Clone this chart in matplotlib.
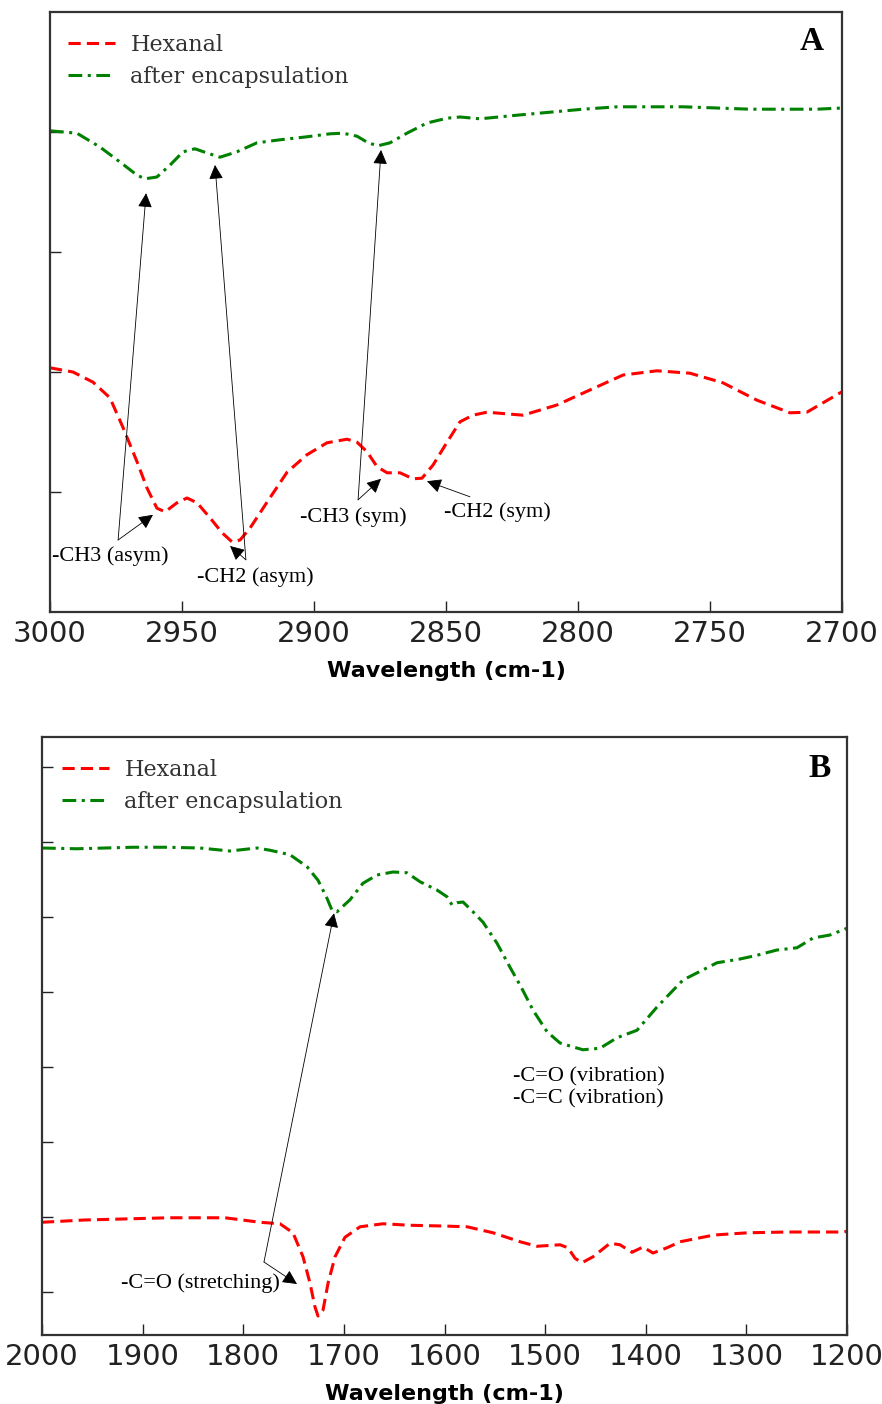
import numpy as np
import matplotlib
matplotlib.use('Agg')
import matplotlib.pyplot as plt

# パネルA (3000-2700 cm-1)
a_wn_hex = [3000.0, 2991.3, 2983.7, 2977.3, 2972.3, 2967.0, 2963.3, 2959.5, 2956.4, 2951.9,
            2948.1, 2944.3, 2939.4, 2934.8, 2931.1, 2928.0, 2924.2, 2917.8, 2910.2, 2902.7,
            2895.1, 2887.5, 2883.7, 2879.9, 2876.1, 2872.3, 2867.4, 2862.5, 2859.1, 2854.9,
            2849.6, 2844.7, 2839.8, 2834.5, 2820.8, 2808.0, 2795.5, 2782.9, 2770.1, 2757.6,
            2745.1, 2732.2, 2719.7, 2713.3, 2700.8, 2700.0]
a_hex = [0.407, 0.400, 0.383, 0.357, 0.307, 0.250, 0.207, 0.173, 0.167, 0.182,
         0.190, 0.182, 0.157, 0.132, 0.117, 0.120, 0.140, 0.183, 0.233, 0.262,
         0.282, 0.288, 0.283, 0.267, 0.242, 0.232, 0.232, 0.222, 0.223, 0.245,
         0.283, 0.317, 0.328, 0.333, 0.328, 0.345, 0.370, 0.395, 0.402, 0.398,
         0.382, 0.353, 0.332, 0.333, 0.365, 0.367]
a_wn_enc = [3000.0, 2989.8, 2981.1, 2973.5, 2967.0, 2964.0, 2959.5, 2954.5, 2949.6, 2945.1,
            2940.5, 2935.6, 2929.2, 2921.6, 2912.9, 2902.7, 2893.9, 2889.0, 2883.7, 2879.5,
            2875.8, 2871.2, 2864.8, 2857.2, 2849.6, 2844.7, 2837.1, 2823.1, 2810.6, 2798.1,
            2785.2, 2770.1, 2760.2, 2747.3, 2734.8, 2722.3, 2709.5, 2700.0]
a_enc = [0.802, 0.798, 0.775, 0.750, 0.728, 0.722, 0.725, 0.745, 0.767, 0.772,
         0.765, 0.758, 0.767, 0.782, 0.787, 0.792, 0.797, 0.798, 0.793, 0.782,
         0.777, 0.782, 0.798, 0.815, 0.823, 0.825, 0.822, 0.828, 0.833, 0.838,
         0.842, 0.842, 0.842, 0.840, 0.838, 0.838, 0.838, 0.840]
a_xticks = [3000, 2950, 2900, 2850, 2800, 2750, 2700]

# パネルB (2000-1200 cm-1)
b_wn_hex = [2000.0, 1958.3, 1873.8, 1818.1, 1783.4, 1763.5, 1750.6, 1740.6, 1733.7, 1728.7,
            1725.7, 1720.7, 1715.7, 1708.8, 1698.9, 1683.9, 1661.1, 1634.2, 1601.5, 1577.6,
            1551.8, 1524.8, 1508.1, 1485.2, 1477.3, 1470.3, 1463.4, 1452.4, 1435.5, 1425.6,
            1413.7, 1402.7, 1392.8, 1378.9, 1365.9, 1332.2, 1298.4, 1259.6, 1203.0, 1200.0]
b_hex = [0.93, 0.96, 0.99, 0.99, 0.93, 0.91, 0.79, 0.47, 0.12, -0.20,
         -0.32, -0.24, 0.12, 0.47, 0.73, 0.87, 0.91, 0.89, 0.88, 0.87,
         0.79, 0.67, 0.61, 0.63, 0.59, 0.45, 0.39, 0.47, 0.65, 0.63,
         0.53, 0.60, 0.52, 0.59, 0.67, 0.76, 0.79, 0.80, 0.80, 0.81]
b_wn_enc = [2000.0, 1965.2, 1909.6, 1875.8, 1843.0, 1813.2, 1786.3, 1773.4, 1753.5, 1736.6,
            1725.7, 1716.8, 1711.8, 1706.8, 1693.9, 1681.0, 1667.1, 1651.2, 1637.3, 1624.3,
            1607.5, 1597.5, 1592.5, 1587.6, 1581.6, 1571.7, 1561.7, 1547.8, 1534.9, 1524.0,
            1512.1, 1498.1, 1485.2, 1475.3, 1462.4, 1445.5, 1428.6, 1408.7, 1388.8, 1363.0,
            1329.2, 1306.3, 1289.4, 1269.6, 1249.7, 1233.8, 1216.9, 1200.0]
b_enc = [5.92, 5.91, 5.93, 5.93, 5.92, 5.88, 5.92, 5.89, 5.83, 5.67,
         5.49, 5.25, 5.09, 5.07, 5.23, 5.45, 5.56, 5.60, 5.59, 5.47,
         5.36, 5.27, 5.16, 5.19, 5.20, 5.07, 4.93, 4.65, 4.33, 4.07,
         3.76, 3.47, 3.32, 3.28, 3.23, 3.25, 3.39, 3.49, 3.80, 4.16,
         4.39, 4.44, 4.49, 4.56, 4.59, 4.72, 4.76, 4.85]
b_xticks = [2000, 1900, 1800, 1700, 1600, 1500, 1400, 1300, 1200]

labels = ['Hexanal', 'after encapsulation']
RED_LS = (0, (4, 2))
GREEN_LS = (0, (4.5, 1.8, 1, 1.8))
ANN_FONT = dict(family='Liberation Serif', size=16, color='black')


def arrow(ax, xy, xytext):
    ax.annotate('', xy=xy, xytext=xytext,
                arrowprops=dict(arrowstyle='-|>', color='black', lw=0.6,
                                mutation_scale=22, shrinkA=0, shrinkB=0))


def style_axes(ax, xticks, yticks, xlim, ylim, letter, leg_anchor):
    ax.set_xlim(*xlim)
    ax.set_ylim(*ylim)
    ax.set_xticks(xticks)
    ax.set_yticks(yticks)
    ax.set_yticklabels([])
    ax.tick_params(direction='in', length=8, width=1, labelsize=21, colors='#222222', pad=6)
    for s in ax.spines.values():
        s.set_color('#333333')
        s.set_linewidth(1.6)
    ax.set_xlabel('Wavelength (cm-1)', fontsize=16, fontweight='bold', labelpad=9)
    ax.text(letter[0], letter[1], letter[2], transform=ax.transAxes, ha='center', va='center',
            family='Liberation Serif', fontweight='bold', fontsize=24)
    ax.legend(labels, loc='upper left', bbox_to_anchor=leg_anchor, frameon=False,
              borderpad=0, borderaxespad=0, handlelength=2.1, handletextpad=0.7,
              labelspacing=0.45, prop=dict(family='DejaVu Serif', size=16),
              labelcolor='#333333')


fig = plt.figure(figsize=(8.82, 14.04), dpi=100)

# ---- A ----
ax1 = fig.add_axes([50 / 882, 1 - 612 / 1404, 792 / 882, 600 / 1404])
ax1.plot(a_wn_hex, a_hex, color='red', lw=2.2, ls=RED_LS)
ax1.plot(a_wn_enc, a_enc, color='green', lw=2.2, ls=GREEN_LS)
style_axes(ax1, a_xticks, [0.2, 0.4, 0.6, 0.8], (3000, 2700), (0, 1),
           (0.962, 0.95, 'A'), (0.023, 0.964))

ax1.text(2999.2, 0.093, '-CH3 (asym)', ha='left', va='center', **ANN_FONT)
arrow(ax1, (2961.0, 0.162), (2974.2, 0.12))
arrow(ax1, (2963.6, 0.698), (2974.2, 0.12))
ax1.text(2944.3, 0.058, '-CH2 (asym)', ha='left', va='center', **ANN_FONT)
arrow(ax1, (2931.8, 0.11), (2925.8, 0.087))
arrow(ax1, (2937.5, 0.745), (2925.8, 0.087))
ax1.text(2905.3, 0.158, '-CH3 (sym)', ha='left', va='center', **ANN_FONT)
arrow(ax1, (2874.6, 0.222), (2883.3, 0.187))
arrow(ax1, (2874.6, 0.77), (2883.3, 0.187))
ax1.text(2850.8, 0.167, '-CH2 (sym)', ha='left', va='center', **ANN_FONT)
arrow(ax1, (2857.2, 0.218), (2840.9, 0.192))

# ---- B ----
ax2 = fig.add_axes([42 / 882, 1 - 1335 / 1404, 805 / 882, 598 / 1404])
ax2.plot(b_wn_hex, b_hex, color='red', lw=2.2, ls=RED_LS)
ax2.plot(b_wn_enc, b_enc, color='green', lw=2.2, ls=GREEN_LS)
style_axes(ax2, b_xticks, list(range(8)), (2000, 1200), (-0.573, 7.4),
           (0.966, 0.948, 'B'), (0.025, 0.9635))

ax2.text(1763.5, 0.12, '-C=O (stretching)', ha='right', va='center', **ANN_FONT)
arrow(ax2, (1746.6, 0.107), (1779.4, 0.4))
arrow(ax2, (1709.8, 5.05), (1779.4, 0.4))
ax2.text(1531.9, 2.72, '-C=O (vibration)\n-C=C (vibration)', ha='left', va='center',
         **ANN_FONT)

fig.savefig('out.png', dpi=100)
